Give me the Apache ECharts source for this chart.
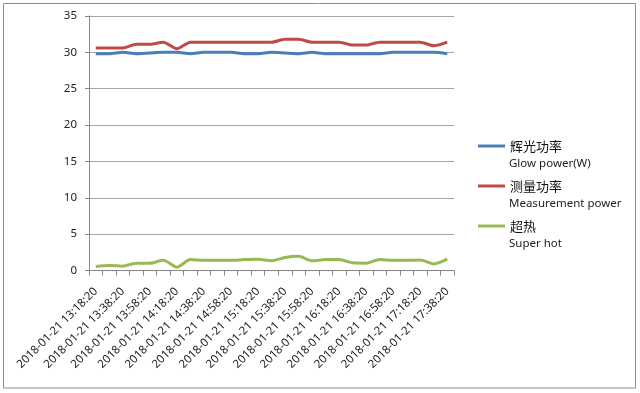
<!DOCTYPE html>
<html>
<head>
<meta charset="utf-8">
<script src="https://cdn.jsdelivr.net/npm/echarts@6/dist/echarts.min.js"></script>
<style>
html,body{margin:0;padding:0;background:#fff;}
#chart{width:640px;height:393px;}
</style>
</head>
<body>
<div id="chart"></div>
<script>
var categories = [
  '2018-01-21 13:18:20','2018-01-21 13:28:20','2018-01-21 13:38:20','2018-01-21 13:48:20',
  '2018-01-21 13:58:20','2018-01-21 14:08:20','2018-01-21 14:18:20','2018-01-21 14:28:20',
  '2018-01-21 14:38:20','2018-01-21 14:48:20','2018-01-21 14:58:20','2018-01-21 15:08:20',
  '2018-01-21 15:18:20','2018-01-21 15:28:20','2018-01-21 15:38:20','2018-01-21 15:48:20',
  '2018-01-21 15:58:20','2018-01-21 16:08:20','2018-01-21 16:18:20','2018-01-21 16:28:20',
  '2018-01-21 16:38:20','2018-01-21 16:48:20','2018-01-21 16:58:20','2018-01-21 17:08:20',
  '2018-01-21 17:18:20','2018-01-21 17:28:20','2018-01-21 17:38:20'
];
var glowPower = [29.8,29.8,30.0,29.8,29.9,30.0,30.0,29.8,30.0,30.0,30.0,29.8,29.8,30.0,29.9,29.8,30.0,29.8,29.8,29.8,29.8,29.8,30.0,30.0,30.0,30.0,29.8];
var measurementPower = [30.6,30.6,30.6,31.1,31.1,31.4,30.5,31.4,31.4,31.4,31.4,31.4,31.4,31.4,31.8,31.8,31.4,31.4,31.4,31.0,31.0,31.4,31.4,31.4,31.4,30.9,31.4];
var superHot = [0.55,0.7,0.6,1.0,1.0,1.4,0.45,1.5,1.4,1.4,1.4,1.5,1.55,1.35,1.8,1.95,1.35,1.5,1.5,1.05,1.0,1.5,1.4,1.4,1.45,0.9,1.55];
var seriesNamesCN = ['辉光功率','测量功率','超热'];
var seriesNamesEN = ['Glow power(W)','Measurement power','Super hot'];
var yTicks = {min:0, max:35, interval:5};

var colors = ['#4A7EBB','#BE4B48','#98B954'];
var font = 'Noto Sans';
var chart = echarts.init(document.getElementById('chart'));
var dataSets = [glowPower, measurementPower, superHot];
var enTop = [158,198,238];
var graphics = [{
  type:'rect', shape:{x:3.5,y:3.5,width:632,height:384.5},
  style:{fill:'none', stroke:'#8c8c8c', lineWidth:1}, silent:true
}];
seriesNamesEN.forEach(function(t,i){
  graphics.push({type:'text', left:509, top:enTop[i],
    style:{text:t, fill:'#222', font:'11.5px "Noto Sans"'}});
});
chart.setOption({
  animation:false,
  color:colors,
  grid:{left:89, right:186, top:16, bottom:122.5, containLabel:false},
  legend:{
    orient:'vertical', left:478, top:138, padding:0, itemWidth:27, itemHeight:3, itemGap:24,
    icon:'rect', data:seriesNamesCN,
    textStyle:{fontFamily:'Noto Sans CJK SC', fontSize:13, lineHeight:16, color:'#111'}
  },
  xAxis:{
    type:'category', data:categories, boundaryGap:true,
    axisLine:{lineStyle:{color:'#868686', width:1}},
    axisTick:{show:true, interval:0, length:5, lineStyle:{color:'#868686'}},
    axisLabel:{interval:1, rotate:45, margin:19, fontFamily:font, fontSize:11.5, color:'#222'}
  },
  yAxis:{
    type:'value', min:yTicks.min, max:yTicks.max, interval:yTicks.interval,
    axisLine:{show:true, lineStyle:{color:'#868686'}},
    axisTick:{show:true, length:4, lineStyle:{color:'#868686'}},
    splitLine:{lineStyle:{color:'#a6a6a6', width:1}},
    axisLabel:{margin:12, fontFamily:font, fontSize:11.5, color:'#222'}
  },
  graphic:graphics,
  series: dataSets.map(function(d,i){
    return {name:seriesNamesCN[i], type:'line', data:d, showSymbol:false, symbol:'none',
      smooth:0.25, lineStyle:{width:3, color:colors[i]}};
  })
});
</script>
</body>
</html>
